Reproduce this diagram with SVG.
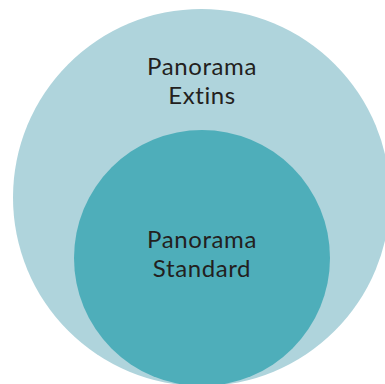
<svg xmlns="http://www.w3.org/2000/svg" width="385" height="384" viewBox="0 0 385 384">
<style>
.lbl{font-family:Lato,"Open Sans","Liberation Sans",sans-serif;font-size:24px;letter-spacing:0.6px;fill:#231f20;text-anchor:middle}
</style>
<rect width="385" height="384" fill="#ffffff"/>
<g id="extins">
<circle cx="201.5" cy="197.5" r="188.5" fill="#afd4dc"/>
<text class="lbl" x="202" y="75">Panorama</text>
<text class="lbl" x="202" y="104">Extins</text>
</g>
<g id="standard">
<circle cx="202" cy="258" r="128" fill="#4eaeba"/>
<text class="lbl" x="202" y="248">Panorama</text>
<text class="lbl" x="202" y="277">Standard</text>
</g>
<g id="connectors"></g>
</svg>
